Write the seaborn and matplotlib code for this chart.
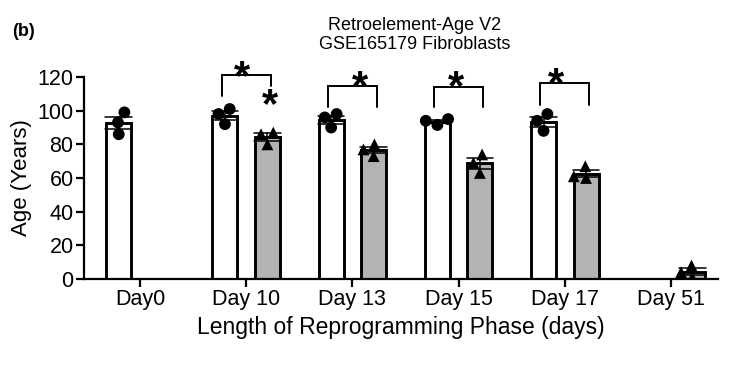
import pandas as pd
import seaborn as sns
import matplotlib.pyplot as plt
import numpy as np

# Donnees (3 replicats par condition)
days = ["Day0", "Day 10", "Day 13", "Day 15", "Day 17", "Day 51"]
groups = ["Control", "Reprogrammed"]
control_age = {
    "Day0": [99, 93, 86],
    "Day 10": [101, 98, 92],
    "Day 13": [98, 96, 90],
    "Day 15": [95, 94, 91.5],
    "Day 17": [98, 94, 88],
}
reprog_age = {
    "Day 10": [87, 86, 80],
    "Day 13": [80, 77, 73],
    "Day 15": [74, 69, 63],
    "Day 17": [67, 61, 60],
    "Day 51": [8, 4, 1],
}

rows = []
for d, vals in control_age.items():
    for v in vals:
        rows.append({"day": d, "group": "Control", "age": v})
for d, vals in reprog_age.items():
    for v in vals:
        rows.append({"day": d, "group": "Reprogrammed", "age": v})
df = pd.DataFrame(rows)

# Comparaisons significatives : (jour, haut du crochet, bas jambe gauche, bas jambe droite)
brackets = [("Day 10", 121.2, 108.8, 114.9),
            ("Day 13", 114.9, 102.4, 102.4),
            ("Day 15", 114.3, 102.2, 102.2),
            ("Day 17", 116.3, 103.4, 103.4)]
stars = [("Day 10", -0.04, 127), ("Day 10", 0.22, 110.3),
         ("Day 13", 0.07, 120.7), ("Day 15", -0.02, 120.7),
         ("Day 17", -0.08, 122.7)]

sns.set_theme(style="ticks")
plt.rcParams['font.family'] = ['Liberation Sans', 'DejaVu Sans']
plt.rcParams['text.color'] = 'black'
plt.rcParams['axes.labelcolor'] = 'black'

fig = plt.figure(figsize=(7.46, 3.88), dpi=100)
ax = fig.add_axes([0.1126, 0.2809, 0.85, 0.5206])

sns.barplot(data=df, x="day", y="age", hue="group", order=days, hue_order=groups,
            palette={"Control": "white", "Reprogrammed": "#b3b3b3"},
            errorbar="se", capsize=0.5, gap=0.41, width=0.8,
            edgecolor="black", linewidth=2.1,
            err_kws={"color": "black", "linewidth": 1.1},
            legend=False, ax=ax)

sns.swarmplot(data=df[df["group"] == "Control"], x="day", y="age", hue="group",
              order=days, hue_order=groups, dodge=True, size=8.5, marker="o",
              palette={"Control": "black", "Reprogrammed": "black"},
              legend=False, ax=ax)
sns.swarmplot(data=df[df["group"] == "Reprogrammed"], x="day", y="age", hue="group",
              order=days, hue_order=groups, dodge=True, size=8.5, marker="^",
              palette={"Control": "black", "Reprogrammed": "black"},
              legend=False, ax=ax)

for d, top, yl, yr in brackets:
    i = days.index(d)
    ax.plot([i - 0.23, i - 0.23, i + 0.23, i + 0.23], [yl, top, top, yr],
            color="black", lw=1.4, clip_on=False, solid_joinstyle="miter")
for d, dx, y in stars:
    i = days.index(d)
    ax.annotate("*", xy=(i + dx, y), xytext=(0, -17), textcoords="offset points",
                ha="center", va="baseline", fontsize=30, fontweight="bold",
                color="black", annotation_clip=False)

ax.set_xlim(-0.527, 5.443)
ax.set_ylim(0, 120)
ax.set_yticks(range(0, 121, 20))
sns.despine(ax=ax)
for s in ["left", "bottom"]:
    ax.spines[s].set_linewidth(1.6)
    ax.spines[s].set_color("black")
ax.tick_params(axis="both", direction="out", length=5.5, width=1.6,
               labelsize=15.5, colors="black", pad=2)
ax.set_xlabel("Length of Reprogramming Phase (days)", fontsize=16.5, labelpad=4)
ax.set_ylabel("Age (Years)", fontsize=16, labelpad=4)

fig.text(0.5563, 0.955, "Retroelement-Age V2\nGSE165179 Fibroblasts",
         ha="center", va="top", fontsize=13, linespacing=1.1)
fig.text(0.016, 0.92, "(b)", ha="left", va="center", fontsize=13, fontweight="bold")

plt.savefig("out.png", dpi=100)
